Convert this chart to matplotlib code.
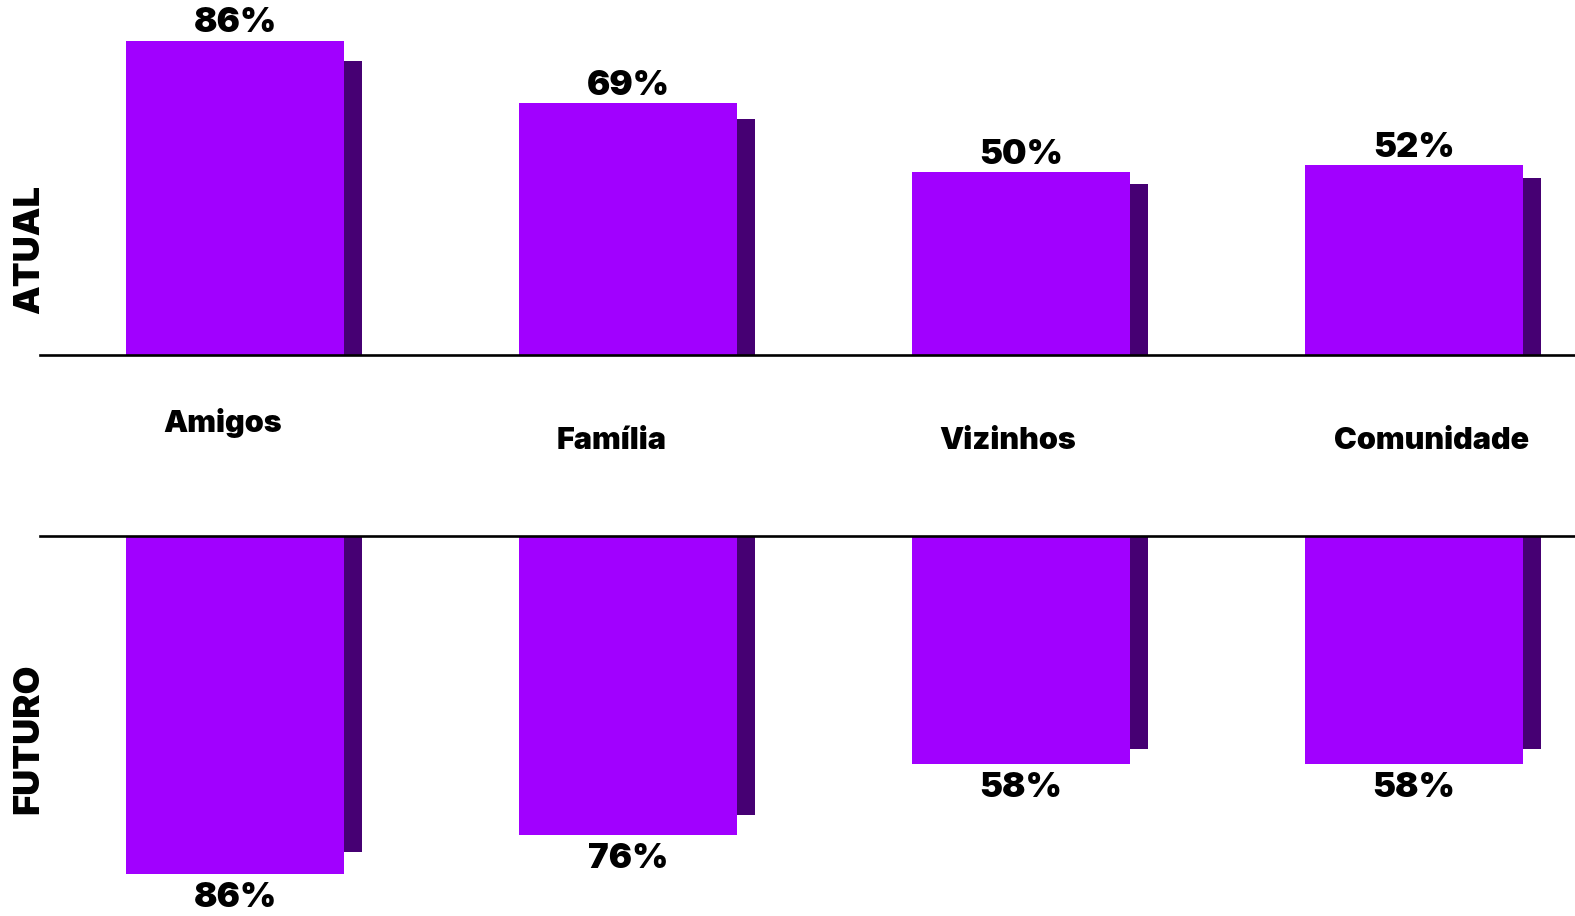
import matplotlib
matplotlib.use('Agg')
import matplotlib.pyplot as plt
import matplotlib.transforms as mtransforms
import numpy as np

# values (%)
categories = ['Amigos', 'Família', 'Vizinhos', 'Comunidade']
atual = [86, 69, 50, 52]
futuro = [86, 76, 58, 58]
panel_labels = ['ATUAL', 'FUTURO']

purple = '#A100FF'
dark_purple = '#460073'
shadow_ratio = 0.935

plt.rcParams['font.family'] = ['Inter', 'DejaVu Sans']
plt.rcParams['font.weight'] = 900

W, H = 1575, 916
fig = plt.figure(figsize=(W / 100, H / 100), dpi=100)

left_px = 40
top_base = 355.5   # baseline of upper panel (px from top)
bot_base = 536     # baseline of lower panel

x = np.arange(len(categories))
bar_w = 0.555
sh_w = 0.046
xlim = (-0.497, 3.41)

ax_top = fig.add_axes([left_px / W, 1 - top_base / H, 1 - left_px / W, top_base / H])
ax_bot = fig.add_axes([left_px / W, 0, 1 - left_px / W, (H - bot_base) / H])

ax_top.set_ylim(0, top_base / 3.66)
ax_bot.set_ylim((H - bot_base) / 3.93, 0)

for ax, vals, edge in [(ax_top, atual, 'bottom'), (ax_bot, futuro, 'top')]:
    vals = np.array(vals)
    # darker strip to the right of each bar
    ax.bar(x + bar_w / 2 + sh_w / 2, vals * shadow_ratio, width=sh_w,
           color=dark_purple, linewidth=0, zorder=1)
    ax.bar(x, vals, width=bar_w, color=purple, linewidth=0, zorder=2)
    ax.set_xlim(*xlim)
    for s in ax.spines.values():
        s.set_visible(False)
    ax.spines[edge].set_visible(True)
    ax.spines[edge].set_linewidth(1.9)
    ax.spines[edge].set_zorder(3)
    ax.set_xticks([])
    ax.set_yticks([])
    ax.patch.set_alpha(0)

for xi, v in zip(x, atual):
    ax_top.annotate(f'{v}%', (xi, v), xytext=(0, 6), textcoords='offset points',
                    ha='center', va='baseline', fontsize=25, fontweight=900)
for xi, v in zip(x, futuro):
    ax_bot.annotate(f'{v}%', (xi, v), xytext=(0, -6), textcoords='offset points',
                    ha='center', va='top', fontsize=25, fontweight=900)

# category names between the two panels (nudged in px: dx, baseline y)
name_pos = [(-13, 432), (-17, 449), (-13, 449), (18, 449)]
for xi, c, (dx, yb) in zip(x, categories, name_pos):
    tr = mtransforms.blended_transform_factory(ax_top.transData, fig.transFigure)
    tr = tr + mtransforms.ScaledTranslation(dx / 100, 0, fig.dpi_scale_trans)
    ax_top.text(xi, 1 - yb / H, c, transform=tr, ha='center', va='baseline',
                fontsize=22, fontweight=900, clip_on=False)

fig.text(30 / W, 1 - 249.5 / H, panel_labels[0], rotation=90, ha='center', va='center',
         fontsize=26, fontweight=900)
fig.text(29 / W, 1 - 739 / H, panel_labels[1], rotation=90, ha='center', va='center',
         fontsize=26, fontweight=900)

fig.savefig('out.png', dpi=100)
